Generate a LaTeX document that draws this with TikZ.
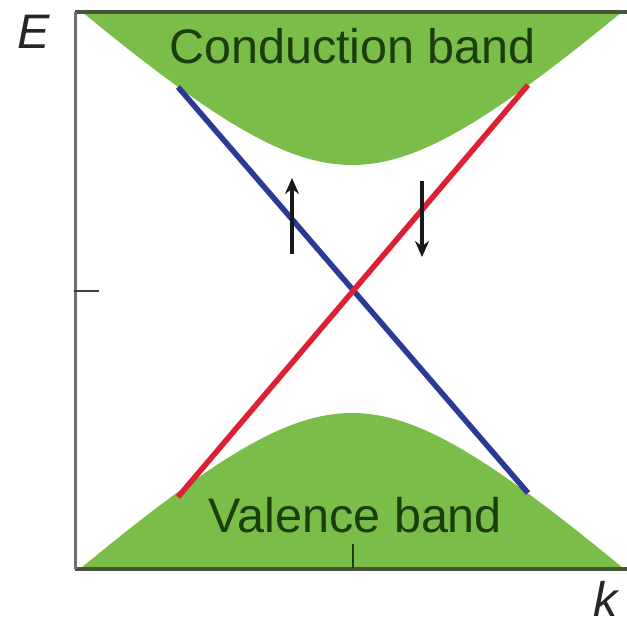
\documentclass[tikz,border=0pt]{standalone}
\usepackage{fontspec}
\setmainfont{Liberation Sans}
\usetikzlibrary{arrows.meta}
\definecolor{bandgreen}{RGB}{122,189,72}
\definecolor{textgreen}{RGB}{28,62,12}
\definecolor{axisgray}{RGB}{110,110,110}
\definecolor{edgeolive}{RGB}{70,85,55}
\definecolor{bluestate}{RGB}{42,58,150}
\definecolor{redstate}{RGB}{222,32,52}
\tikzset{
  bandlabel/.style={font=\fontsize{48.5}{50}\selectfont, text=textgreen, anchor=base, inner sep=0pt},
  axislabel/.style={font=\fontsize{48.5}{50}\selectfont\itshape, text=black!85, inner sep=0pt},
  statel/.style={line width=5.5pt},
  spin/.style={line width=3.2pt, -{Stealth[length=16pt,width=14pt]}, black!90},
  axisline/.style={line width=3pt, axisgray},
  edgeline/.style={line width=3.5pt, edgeolive},
  tickline/.style={line width=2.2pt, black!75}
}
\begin{document}
\begin{tikzpicture}[x=1pt,y=-1pt]
\useasboundingbox (0,0) rectangle (627,627);
% bands
\begin{scope}
  \clip (75,12) rectangle (627,569);
  \fill[bandgreen] (60,0) -- plot[domain=-292:275,samples=120] ({352+\x},{290-100*sqrt(1.5625+(0.0092*\x)^2)}) -- (640,0) -- cycle;
  \fill[bandgreen] (60,600) -- plot[domain=-292:275,samples=120] ({352+\x},{290+100*sqrt(1.5129+(0.0092*\x)^2)}) -- (640,600) -- cycle;
\end{scope}
% frame lines
\coordinate (tl) at (75,12);
\coordinate (tr) at (627,12);
\coordinate (bl) at (75,569);
\coordinate (br) at (627,569);
\draw[edgeline] (tl) -- (tr);
\draw[edgeline] (bl) -- (br);
\draw[axisline] (tl) -- (bl);
% ticks
\coordinate (ly0) at (74,291);
\coordinate (ly1) at (99,291);
\draw[tickline] (ly0) -- (ly1);
\coordinate (kx0) at (353,568);
\coordinate (kx1) at (353,544);
\draw[tickline, textgreen] (kx0) -- (kx1);
% surface states
\coordinate (b0) at (178,87);
\coordinate (b1) at (528,493);
\coordinate (r0) at (178,497);
\coordinate (r1) at (528,85);
\draw[statel, bluestate] (b0) -- (b1);
\draw[statel, redstate] (r0) -- (r1);
% spins
\coordinate (u0) at (292,254);
\coordinate (u1) at (292,178);
\coordinate (d0) at (422,181);
\coordinate (d1) at (422,257);
\draw[spin] (u0) -- (u1);
\draw[spin] (d0) -- (d1);
% labels
\node[bandlabel] (cb) at (352.5,63) {Conduction band};
\node[bandlabel] (vb) at (355.5,532) {Valence band};
\node[axislabel, anchor=base west] (E) at (17,48) {E};
\node[axislabel, anchor=base west] (k) at (593,616) {k};
\end{tikzpicture}
\end{document}
